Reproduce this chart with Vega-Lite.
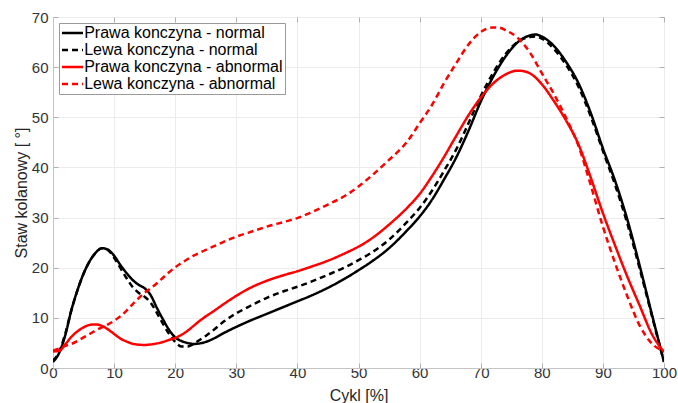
{
  "$schema": "https://vega.github.io/schema/vega-lite/v6.json",
  "width": 611,
  "height": 351,
  "autosize": {"type": "none"},
  "padding": {"left": 53, "top": 17, "right": 14, "bottom": 35},
  "background": "white",
  "config": {
    "font": "Liberation Sans",
    "view": {"stroke": "#c4c4c4", "strokeWidth": 1},
    "axis": {
      "labelFont": "Liberation Sans",
      "titleFont": "Liberation Sans",
      "labelFontSize": 15,
      "titleFontSize": 16,
      "titleFontWeight": "normal",
      "labelColor": "#333333",
      "titleColor": "#262626",
      "domainColor": "#c4c4c4",
      "tickColor": "#b0b0b0",
      "gridColor": "#ececec",
      "gridWidth": 1,
      "tickSize": -5
    },
    "legend": {
      "labelFont": "Liberation Sans",
      "labelFontSize": 16,
      "labelColor": "#000000"
    }
  },
  "data": {"values": [
    {"s":"Prawa konczyna - normal","x":0,"v":1.2},{"s":"Prawa konczyna - normal","x":1,"v":3},{"s":"Prawa konczyna - normal","x":2,"v":6.5},{"s":"Prawa konczyna - normal","x":3,"v":11.5},{"s":"Prawa konczyna - normal","x":4,"v":15.5},{"s":"Prawa konczyna - normal","x":5,"v":18.8},{"s":"Prawa konczyna - normal","x":6,"v":21.3},{"s":"Prawa konczyna - normal","x":7,"v":23},{"s":"Prawa konczyna - normal","x":8,"v":23.9},{"s":"Prawa konczyna - normal","x":9,"v":23.6},{"s":"Prawa konczyna - normal","x":10,"v":22.4},{"s":"Prawa konczyna - normal","x":11,"v":20.6},{"s":"Prawa konczyna - normal","x":12,"v":19},{"s":"Prawa konczyna - normal","x":13,"v":17.6},{"s":"Prawa konczyna - normal","x":14,"v":16.6},{"s":"Prawa konczyna - normal","x":15,"v":15.9},{"s":"Prawa konczyna - normal","x":16,"v":14.5},{"s":"Prawa konczyna - normal","x":17,"v":12},{"s":"Prawa konczyna - normal","x":18,"v":9.7},{"s":"Prawa konczyna - normal","x":19,"v":7.6},{"s":"Prawa konczyna - normal","x":20,"v":6.1},{"s":"Prawa konczyna - normal","x":21,"v":5.4},{"s":"Prawa konczyna - normal","x":22,"v":5},{"s":"Prawa konczyna - normal","x":23,"v":4.8},{"s":"Prawa konczyna - normal","x":24,"v":4.9},{"s":"Prawa konczyna - normal","x":25,"v":5.2},{"s":"Prawa konczyna - normal","x":26,"v":5.7},{"s":"Prawa konczyna - normal","x":28,"v":7},{"s":"Prawa konczyna - normal","x":30,"v":8.2},{"s":"Prawa konczyna - normal","x":32,"v":9.3},{"s":"Prawa konczyna - normal","x":35,"v":10.8},{"s":"Prawa konczyna - normal","x":38,"v":12.3},{"s":"Prawa konczyna - normal","x":40,"v":13.3},{"s":"Prawa konczyna - normal","x":42,"v":14.3},{"s":"Prawa konczyna - normal","x":45,"v":16},{"s":"Prawa konczyna - normal","x":48,"v":18},{"s":"Prawa konczyna - normal","x":50,"v":19.5},{"s":"Prawa konczyna - normal","x":52,"v":21.1},{"s":"Prawa konczyna - normal","x":55,"v":23.9},{"s":"Prawa konczyna - normal","x":58,"v":27.5},{"s":"Prawa konczyna - normal","x":60,"v":30.2},{"s":"Prawa konczyna - normal","x":62,"v":33.5},{"s":"Prawa konczyna - normal","x":64,"v":37.6},{"s":"Prawa konczyna - normal","x":66,"v":42},{"s":"Prawa konczyna - normal","x":68,"v":47.3},{"s":"Prawa konczyna - normal","x":70,"v":53.1},{"s":"Prawa konczyna - normal","x":72,"v":58},{"s":"Prawa konczyna - normal","x":74,"v":62},{"s":"Prawa konczyna - normal","x":76,"v":64.9},{"s":"Prawa konczyna - normal","x":78,"v":66.3},{"s":"Prawa konczyna - normal","x":79,"v":66.5},{"s":"Prawa konczyna - normal","x":80,"v":66.1},{"s":"Prawa konczyna - normal","x":82,"v":64.2},{"s":"Prawa konczyna - normal","x":84,"v":61},{"s":"Prawa konczyna - normal","x":86,"v":56.8},{"s":"Prawa konczyna - normal","x":88,"v":50.9},{"s":"Prawa konczyna - normal","x":90,"v":43.8},{"s":"Prawa konczyna - normal","x":92,"v":37.3},{"s":"Prawa konczyna - normal","x":94,"v":29.6},{"s":"Prawa konczyna - normal","x":96,"v":20.5},{"s":"Prawa konczyna - normal","x":98,"v":10.8},{"s":"Prawa konczyna - normal","x":100,"v":1.2},

    {"s":"Lewa konczyna - normal","x":0,"v":1.5},{"s":"Lewa konczyna - normal","x":1,"v":3.2},{"s":"Lewa konczyna - normal","x":2,"v":6.8},{"s":"Lewa konczyna - normal","x":3,"v":11.5},{"s":"Lewa konczyna - normal","x":4,"v":15.5},{"s":"Lewa konczyna - normal","x":5,"v":18.8},{"s":"Lewa konczyna - normal","x":6,"v":21.3},{"s":"Lewa konczyna - normal","x":7,"v":23},{"s":"Lewa konczyna - normal","x":8,"v":23.9},{"s":"Lewa konczyna - normal","x":9,"v":23.5},{"s":"Lewa konczyna - normal","x":10,"v":22},{"s":"Lewa konczyna - normal","x":11,"v":20},{"s":"Lewa konczyna - normal","x":12,"v":18},{"s":"Lewa konczyna - normal","x":13,"v":16.2},{"s":"Lewa konczyna - normal","x":14,"v":15},{"s":"Lewa konczyna - normal","x":15,"v":14.2},{"s":"Lewa konczyna - normal","x":16,"v":13},{"s":"Lewa konczyna - normal","x":17,"v":11},{"s":"Lewa konczyna - normal","x":18,"v":8.8},{"s":"Lewa konczyna - normal","x":19,"v":6.8},{"s":"Lewa konczyna - normal","x":20,"v":5.2},{"s":"Lewa konczyna - normal","x":21,"v":4.3},{"s":"Lewa konczyna - normal","x":22,"v":4.3},{"s":"Lewa konczyna - normal","x":23,"v":4.8},{"s":"Lewa konczyna - normal","x":24,"v":5.6},{"s":"Lewa konczyna - normal","x":25,"v":6.4},{"s":"Lewa konczyna - normal","x":26,"v":7.3},{"s":"Lewa konczyna - normal","x":28,"v":9.3},{"s":"Lewa konczyna - normal","x":30,"v":10.9},{"s":"Lewa konczyna - normal","x":32,"v":12.2},{"s":"Lewa konczyna - normal","x":35,"v":14},{"s":"Lewa konczyna - normal","x":38,"v":15.4},{"s":"Lewa konczyna - normal","x":40,"v":16.2},{"s":"Lewa konczyna - normal","x":42,"v":17.1},{"s":"Lewa konczyna - normal","x":45,"v":18.6},{"s":"Lewa konczyna - normal","x":48,"v":20.2},{"s":"Lewa konczyna - normal","x":50,"v":21.5},{"s":"Lewa konczyna - normal","x":52,"v":22.9},{"s":"Lewa konczyna - normal","x":55,"v":25.6},{"s":"Lewa konczyna - normal","x":58,"v":29.2},{"s":"Lewa konczyna - normal","x":60,"v":31.9},{"s":"Lewa konczyna - normal","x":62,"v":35.3},{"s":"Lewa konczyna - normal","x":64,"v":39.3},{"s":"Lewa konczyna - normal","x":66,"v":43.6},{"s":"Lewa konczyna - normal","x":68,"v":48.8},{"s":"Lewa konczyna - normal","x":70,"v":54.2},{"s":"Lewa konczyna - normal","x":72,"v":58.8},{"s":"Lewa konczyna - normal","x":74,"v":62.5},{"s":"Lewa konczyna - normal","x":76,"v":65},{"s":"Lewa konczyna - normal","x":78,"v":66},{"s":"Lewa konczyna - normal","x":79,"v":66.1},{"s":"Lewa konczyna - normal","x":80,"v":65.7},{"s":"Lewa konczyna - normal","x":82,"v":63.6},{"s":"Lewa konczyna - normal","x":84,"v":60.4},{"s":"Lewa konczyna - normal","x":86,"v":56.1},{"s":"Lewa konczyna - normal","x":88,"v":50.2},{"s":"Lewa konczyna - normal","x":90,"v":43.3},{"s":"Lewa konczyna - normal","x":92,"v":36.5},{"s":"Lewa konczyna - normal","x":94,"v":28.8},{"s":"Lewa konczyna - normal","x":96,"v":19.9},{"s":"Lewa konczyna - normal","x":98,"v":10.5},{"s":"Lewa konczyna - normal","x":100,"v":1.2},

    {"s":"Prawa konczyna - abnormal","x":0,"v":3.3},{"s":"Prawa konczyna - abnormal","x":1,"v":3.4},{"s":"Prawa konczyna - abnormal","x":2,"v":4.7},{"s":"Prawa konczyna - abnormal","x":3,"v":6.2},{"s":"Prawa konczyna - abnormal","x":4,"v":7.3},{"s":"Prawa konczyna - abnormal","x":5,"v":8.1},{"s":"Prawa konczyna - abnormal","x":6,"v":8.6},{"s":"Prawa konczyna - abnormal","x":7,"v":8.7},{"s":"Prawa konczyna - abnormal","x":8,"v":8.4},{"s":"Prawa konczyna - abnormal","x":9,"v":7.7},{"s":"Prawa konczyna - abnormal","x":10,"v":6.8},{"s":"Prawa konczyna - abnormal","x":11,"v":5.9},{"s":"Prawa konczyna - abnormal","x":12,"v":5.3},{"s":"Prawa konczyna - abnormal","x":13,"v":4.85},{"s":"Prawa konczyna - abnormal","x":14,"v":4.65},{"s":"Prawa konczyna - abnormal","x":15,"v":4.6},{"s":"Prawa konczyna - abnormal","x":16,"v":4.7},{"s":"Prawa konczyna - abnormal","x":17,"v":4.9},{"s":"Prawa konczyna - abnormal","x":18,"v":5.2},{"s":"Prawa konczyna - abnormal","x":19,"v":5.6},{"s":"Prawa konczyna - abnormal","x":20,"v":6},{"s":"Prawa konczyna - abnormal","x":21,"v":6.6},{"s":"Prawa konczyna - abnormal","x":22,"v":7.4},{"s":"Prawa konczyna - abnormal","x":23,"v":8.4},{"s":"Prawa konczyna - abnormal","x":24,"v":9.4},{"s":"Prawa konczyna - abnormal","x":25,"v":10.3},{"s":"Prawa konczyna - abnormal","x":26,"v":11.1},{"s":"Prawa konczyna - abnormal","x":28,"v":12.8},{"s":"Prawa konczyna - abnormal","x":30,"v":14.4},{"s":"Prawa konczyna - abnormal","x":32,"v":15.8},{"s":"Prawa konczyna - abnormal","x":35,"v":17.4},{"s":"Prawa konczyna - abnormal","x":38,"v":18.6},{"s":"Prawa konczyna - abnormal","x":40,"v":19.3},{"s":"Prawa konczyna - abnormal","x":42,"v":20.1},{"s":"Prawa konczyna - abnormal","x":45,"v":21.4},{"s":"Prawa konczyna - abnormal","x":48,"v":23},{"s":"Prawa konczyna - abnormal","x":50,"v":24.2},{"s":"Prawa konczyna - abnormal","x":52,"v":25.7},{"s":"Prawa konczyna - abnormal","x":55,"v":28.6},{"s":"Prawa konczyna - abnormal","x":58,"v":32},{"s":"Prawa konczyna - abnormal","x":60,"v":34.7},{"s":"Prawa konczyna - abnormal","x":62,"v":38.2},{"s":"Prawa konczyna - abnormal","x":64,"v":42.1},{"s":"Prawa konczyna - abnormal","x":66,"v":46.3},{"s":"Prawa konczyna - abnormal","x":68,"v":50.4},{"s":"Prawa konczyna - abnormal","x":70,"v":53.9},{"s":"Prawa konczyna - abnormal","x":72,"v":56.7},{"s":"Prawa konczyna - abnormal","x":74,"v":58.5},{"s":"Prawa konczyna - abnormal","x":76,"v":59.3},{"s":"Prawa konczyna - abnormal","x":77,"v":59.2},{"s":"Prawa konczyna - abnormal","x":78,"v":58.8},{"s":"Prawa konczyna - abnormal","x":80,"v":56.6},{"s":"Prawa konczyna - abnormal","x":82,"v":53.2},{"s":"Prawa konczyna - abnormal","x":84,"v":49.3},{"s":"Prawa konczyna - abnormal","x":86,"v":44.6},{"s":"Prawa konczyna - abnormal","x":88,"v":38},{"s":"Prawa konczyna - abnormal","x":90,"v":30.9},{"s":"Prawa konczyna - abnormal","x":92,"v":24.4},{"s":"Prawa konczyna - abnormal","x":94,"v":18.2},{"s":"Prawa konczyna - abnormal","x":96,"v":12.5},{"s":"Prawa konczyna - abnormal","x":98,"v":6.8},{"s":"Prawa konczyna - abnormal","x":100,"v":3.2},

    {"s":"Lewa konczyna - abnormal","x":0,"v":3.5},{"s":"Lewa konczyna - abnormal","x":1,"v":3.9},{"s":"Lewa konczyna - abnormal","x":2,"v":4.4},{"s":"Lewa konczyna - abnormal","x":3,"v":4.8},{"s":"Lewa konczyna - abnormal","x":4,"v":5.4},{"s":"Lewa konczyna - abnormal","x":5,"v":6.1},{"s":"Lewa konczyna - abnormal","x":6,"v":6.8},{"s":"Lewa konczyna - abnormal","x":7,"v":7.5},{"s":"Lewa konczyna - abnormal","x":8,"v":8.1},{"s":"Lewa konczyna - abnormal","x":9,"v":8.7},{"s":"Lewa konczyna - abnormal","x":10,"v":9.4},{"s":"Lewa konczyna - abnormal","x":11,"v":10.3},{"s":"Lewa konczyna - abnormal","x":12,"v":11.4},{"s":"Lewa konczyna - abnormal","x":13,"v":12.7},{"s":"Lewa konczyna - abnormal","x":14,"v":13.9},{"s":"Lewa konczyna - abnormal","x":15,"v":15},{"s":"Lewa konczyna - abnormal","x":16,"v":15.9},{"s":"Lewa konczyna - abnormal","x":17,"v":16.9},{"s":"Lewa konczyna - abnormal","x":18,"v":18},{"s":"Lewa konczyna - abnormal","x":19,"v":19.1},{"s":"Lewa konczyna - abnormal","x":20,"v":20.1},{"s":"Lewa konczyna - abnormal","x":21,"v":20.9},{"s":"Lewa konczyna - abnormal","x":22,"v":21.7},{"s":"Lewa konczyna - abnormal","x":23,"v":22.4},{"s":"Lewa konczyna - abnormal","x":24,"v":23},{"s":"Lewa konczyna - abnormal","x":26,"v":24.1},{"s":"Lewa konczyna - abnormal","x":28,"v":25.2},{"s":"Lewa konczyna - abnormal","x":30,"v":26.2},{"s":"Lewa konczyna - abnormal","x":32,"v":27},{"s":"Lewa konczyna - abnormal","x":35,"v":28.2},{"s":"Lewa konczyna - abnormal","x":38,"v":29.2},{"s":"Lewa konczyna - abnormal","x":40,"v":29.9},{"s":"Lewa konczyna - abnormal","x":42,"v":30.9},{"s":"Lewa konczyna - abnormal","x":45,"v":32.6},{"s":"Lewa konczyna - abnormal","x":48,"v":34.5},{"s":"Lewa konczyna - abnormal","x":50,"v":36.2},{"s":"Lewa konczyna - abnormal","x":52,"v":38.2},{"s":"Lewa konczyna - abnormal","x":55,"v":41.5},{"s":"Lewa konczyna - abnormal","x":58,"v":45.2},{"s":"Lewa konczyna - abnormal","x":60,"v":48.8},{"s":"Lewa konczyna - abnormal","x":62,"v":52.4},{"s":"Lewa konczyna - abnormal","x":64,"v":56.8},{"s":"Lewa konczyna - abnormal","x":66,"v":60.8},{"s":"Lewa konczyna - abnormal","x":68,"v":64.5},{"s":"Lewa konczyna - abnormal","x":70,"v":67},{"s":"Lewa konczyna - abnormal","x":72,"v":67.9},{"s":"Lewa konczyna - abnormal","x":73,"v":67.9},{"s":"Lewa konczyna - abnormal","x":74,"v":67.4},{"s":"Lewa konczyna - abnormal","x":76,"v":65.9},{"s":"Lewa konczyna - abnormal","x":78,"v":63},{"s":"Lewa konczyna - abnormal","x":80,"v":58.8},{"s":"Lewa konczyna - abnormal","x":82,"v":54.6},{"s":"Lewa konczyna - abnormal","x":84,"v":49.8},{"s":"Lewa konczyna - abnormal","x":86,"v":44.3},{"s":"Lewa konczyna - abnormal","x":88,"v":36.5},{"s":"Lewa konczyna - abnormal","x":90,"v":28.2},{"s":"Lewa konczyna - abnormal","x":92,"v":20.9},{"s":"Lewa konczyna - abnormal","x":94,"v":14.3},{"s":"Lewa konczyna - abnormal","x":96,"v":8.5},{"s":"Lewa konczyna - abnormal","x":98,"v":4.9},{"s":"Lewa konczyna - abnormal","x":100,"v":3.3}
  ]},
  "layer": [
    {
      "mark": {"type": "line", "strokeWidth": 2.5, "interpolate": "monotone", "clip": true},
      "encoding": {
        "x": {"field": "x", "type": "quantitative",
              "scale": {"domain": [0, 100], "nice": false},
              "axis": {"title": "Cykl [%]", "values": [0,10,20,30,40,50,60,70,80,90,100],
                       "labelPadding": 14, "labelBaseline": "alphabetic", "labelFlush": false,
                       "titleY": 32, "titleBaseline": "alphabetic", "grid": true}},
        "y": {"field": "v", "type": "quantitative",
              "scale": {"domain": [0, 70], "nice": false},
              "axis": {"title": "Staw kolanowy [ °]", "values": [0,10,20,30,40,50,60,70],
                       "labelPadding": 10, "labelFlush": false,
                       "titleX": -27, "titleBaseline": "alphabetic", "grid": true}},
        "color": {"field": "s", "type": "nominal",
                  "scale": {"domain": ["Prawa konczyna - normal","Lewa konczyna - normal","Prawa konczyna - abnormal","Lewa konczyna - abnormal"],
                            "range": ["#000000","#000000","#ff0000","#ff0000"]},
                  "legend": {"title": null, "orient": "none", "legendX": 6, "legendY": 6,
                             "symbolType": "M-1.5,0H1.5", "symbolSize": 196, "symbolStrokeWidth": 2.5,
                             "padding": 1.5, "rowPadding": 0, "labelOffset": 3.2, "symbolOffset": 3.5,
                             "strokeColor": "#9a9a9a", "fillColor": "white", "labelLimit": 400}},
        "strokeDash": {"field": "s", "type": "nominal",
                  "scale": {"domain": ["Prawa konczyna - normal","Lewa konczyna - normal","Prawa konczyna - abnormal","Lewa konczyna - abnormal"],
                            "range": [[1,0],[6,4],[1,0],[6,4]]},
                  "legend": {"title": null, "orient": "none", "legendX": 6, "legendY": 6,
                             "symbolType": "M-1.5,0H1.5", "symbolSize": 196, "symbolStrokeWidth": 2.5,
                             "padding": 1.5, "rowPadding": 0, "labelOffset": 3.2, "symbolOffset": 3.5,
                             "strokeColor": "#9a9a9a", "fillColor": "white", "labelLimit": 400}}
      }
    },
    {
      "mark": {"type": "line", "opacity": 0},
      "encoding": {
        "x": {"field": "x", "type": "quantitative",
              "axis": {"orient": "top", "labels": false, "title": null, "grid": false, "domain": false,
                       "values": [0,10,20,30,40,50,60,70,80,90,100]}},
        "y": {"field": "v", "type": "quantitative",
              "axis": {"orient": "right", "labels": false, "title": null, "grid": false, "domain": false,
                       "values": [0,10,20,30,40,50,60,70]}},
        "detail": {"field": "s"}
      }
    }
  ],
  "resolve": {"axis": {"x": "independent", "y": "independent"}}
}
